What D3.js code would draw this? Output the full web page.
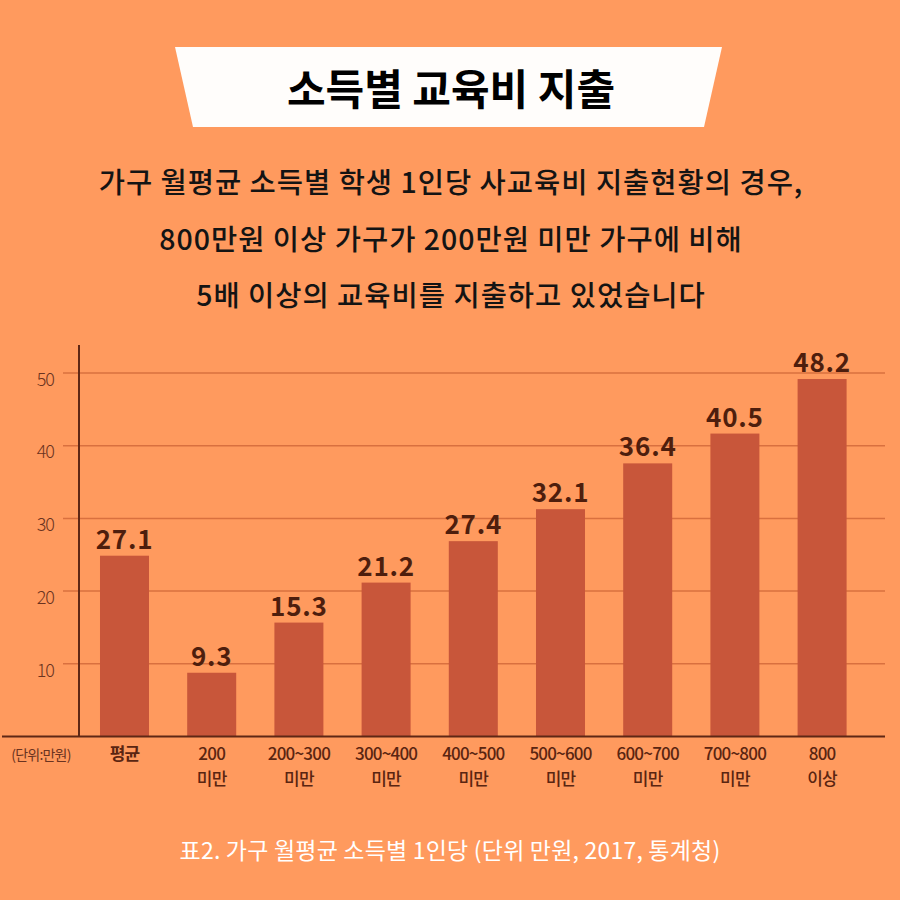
<!DOCTYPE html>
<html>
<head>
<meta charset="utf-8">
<script src="https://cdn.jsdelivr.net/npm/d3@7"></script>
<style>
  html, body { margin: 0; padding: 0; background: #ff9a5e; }
  svg { display: block; }
  text { font-family: "Noto Sans CJK KR", "Noto Sans", sans-serif; }
</style>
</head>
<body>
<svg id="chart" width="900" height="900"></svg>
<script>
var bg = '#ff9a5e';
var barColor = '#c8563a';
var gridColor = '#d9703f';
var axisColor = '#5e2715';
var labelColor = '#4e1e0d';

var width = 900;
var height = 900;

/// Data
var categories = ['평균', '200 미만', '200~300 미만', '300~400 미만', '400~500 미만',
  '500~600 미만', '600~700 미만', '700~800 미만', '800 이상'];
var valueLabels = ['27.1', '9.3', '15.3', '21.2', '27.4', '32.1', '36.4', '40.5', '48.2'];
// bar lengths as drawn in the source graphic (they don't quite match the printed numbers)
var barLengths = [24.8, 8.7, 15.6, 21.1, 26.8, 31.2, 37.5, 41.6, 49.1];
var yTicks = [10, 20, 30, 40, 50];

var titleText = '소득별 교육비 지출';
var subLines = [
  '가구 월평균 소득별 학생 1인당 사교육비 지출현황의 경우,',
  '800만원 이상 가구가 200만원 미만 가구에 비해',
  '5배 이상의 교육비를 지출하고 있었습니다'
];
var unitText = '(단위:만원)';
var sourceText = '표2. 가구 월평균 소득별 1인당 (단위 만원, 2017, 통계청)';

var svg = d3.select('#chart');

svg.append('rect')
  .attr('width', width)
  .attr('height', height)
  .attr('fill', bg);

/// Title banner
svg.append('path')
  .attr('d', 'M175,47 L722,47 L704,127 L193,127 Z')
  .attr('fill', '#fffdfb');

svg.append('text')
  .attr('x', 451)
  .attr('y', 105)
  .attr('text-anchor', 'middle')
  .attr('font-size', '42px')
  .attr('font-weight', 700)
  .attr('fill', '#000')
  .text(titleText);

svg.selectAll('.sub')
  .data(subLines)
  .enter().append('text')
  .attr('class', 'sub')
  .attr('x', 451)
  .attr('y', function(d, i) { return 193 + i * 56.5; })
  .attr('text-anchor', 'middle')
  .attr('font-size', '28.5px')
  .attr('font-weight', 500)
  .attr('letter-spacing', '1px')
  .attr('fill', '#141414')
  .text(function(d) { return d; });

/// Scales
var y = d3.scaleLinear()
  .domain([0, 50])
  .range([736, 372.5]);

var x = d3.scaleBand()
  .domain(categories)
  .range([80.9, 865.7])
  .paddingInner(0.438)
  .paddingOuter(0.219);

/// Gridlines
var grid = svg.append('g')
  .attr('transform', 'translate(63,0)')
  .call(d3.axisLeft(y).tickValues(yTicks).tickSize(-(885 - 63)).tickFormat(''));
grid.select('.domain').remove();
grid.selectAll('line').attr('stroke', gridColor).attr('stroke-width', 1.5);

/// Y tick labels
var yAx = svg.append('g')
  .attr('transform', 'translate(54,0)')
  .call(d3.axisLeft(y).tickValues(yTicks).tickSize(0).tickPadding(0));
yAx.select('.domain').remove();
yAx.selectAll('text')
  .attr('dy', '0.32em')
  .attr('y', 7)
  .attr('font-family', '"Noto Sans CJK KR", sans-serif')
  .attr('font-size', '18px')
  .attr('font-weight', 300)
  .attr('letter-spacing', '-1px')
  .attr('fill', '#6a3320');

/// Bars
svg.selectAll('.bar')
  .data(barLengths)
  .enter().append('rect')
  .attr('class', 'bar')
  .attr('x', function(d, i) { return x(categories[i]); })
  .attr('y', function(d) { return y(d); })
  .attr('width', x.bandwidth())
  .attr('height', function(d) { return y(0) - y(d); })
  .attr('fill', barColor);

svg.selectAll('.val')
  .data(valueLabels)
  .enter().append('text')
  .attr('class', 'val')
  .attr('x', function(d, i) { return x(categories[i]) + x.bandwidth() / 2; })
  .attr('y', function(d, i) { return y(barLengths[i]) - 7; })
  .attr('text-anchor', 'middle')
  .attr('font-size', '26px')
  .attr('font-weight', 600)
  .attr('letter-spacing', '0.8px')
  .attr('fill', labelColor)
  .text(function(d) { return d; });

/// Axes lines
svg.append('line')
  .attr('x1', 79).attr('x2', 79)
  .attr('y1', 345).attr('y2', y(0))
  .attr('stroke', axisColor)
  .attr('stroke-width', 2);

svg.append('line')
  .attr('x1', 2).attr('x2', 885)
  .attr('y1', y(0) + 0.5).attr('y2', y(0) + 0.5)
  .attr('stroke', axisColor)
  .attr('stroke-width', 2);

/// X labels
var xAx = svg.append('g')
  .attr('transform', 'translate(0,' + y(0) + ')')
  .call(d3.axisBottom(x).tickSize(0).tickFormat(''));
xAx.select('.domain').remove();

xAx.selectAll('.tick').append('text')
  .attr('text-anchor', 'middle')
  .attr('font-family', '"Noto Sans CJK KR", sans-serif')
  .attr('font-size', '17px')
  .attr('font-weight', function(d, i) { return i === 0 ? 700 : 500; })
  .attr('letter-spacing', '-0.8px')
  .attr('fill', '#5a2511')
  .each(function(d) {
    var parts = d.split(' ');
    var t = d3.select(this);
    parts.forEach(function(p, j) {
      t.append('tspan')
        .attr('x', 0)
        .attr('y', 24 + j * 25)
        .text(p);
    });
  });

svg.append('text')
  .attr('x', 41)
  .attr('y', 760)
  .attr('text-anchor', 'middle')
  .attr('font-size', '14px')
  .attr('font-weight', 400)
  .attr('letter-spacing', '-0.8px')
  .attr('fill', '#6a3320')
  .text(unitText);

/// Source
svg.append('text')
  .attr('x', 450)
  .attr('y', 859)
  .attr('text-anchor', 'middle')
  .attr('font-size', '23px')
  .attr('font-weight', 400)
  .attr('letter-spacing', '0.2px')
  .attr('fill', '#ffffff')
  .text(sourceText);
</script>
</body>
</html>
